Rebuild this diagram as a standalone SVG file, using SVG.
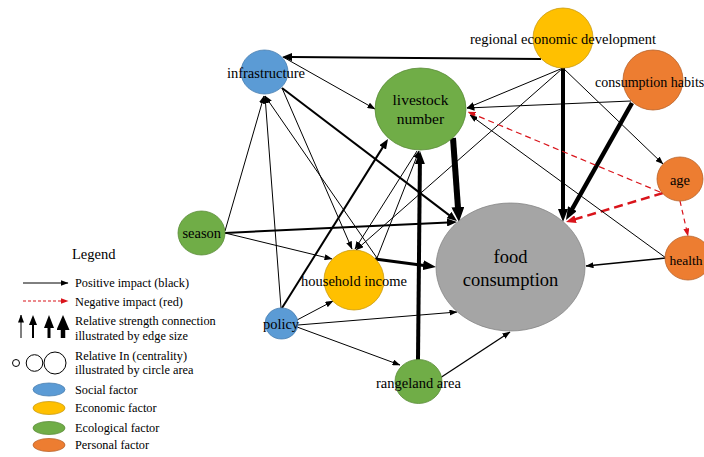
<svg xmlns="http://www.w3.org/2000/svg" width="704" height="457" viewBox="0 0 704 457">
  <defs>
    <style>
      text { font-family: "Liberation Serif", "Times New Roman", serif; fill: #000; }
      .lbl { font-size: 14.5px; text-anchor: middle; }
      .big { font-size: 15.5px; text-anchor: middle; }
      .huge { font-size: 18.5px; text-anchor: middle; }
      .leg { font-size: 12.3px; }
      .e { fill: none; stroke: #000; stroke-width: 1; }
      .neg { fill: none; stroke: #d9141b; stroke-width: 1.2; stroke-dasharray: 6 4; }
      .social { fill: #5b9bd5; stroke: #4a7fb0; stroke-width: 0.8; }
      .economic { fill: #ffc000; stroke: #c99a10; stroke-width: 0.8; }
      .ecological { fill: #70ad47; stroke: #5a8c38; stroke-width: 0.8; }
      .personal { fill: #ed7d31; stroke: #b8622a; stroke-width: 0.8; }
      .outcome { fill: #a5a5a5; stroke: #858585; stroke-width: 0.8; }
    </style>
    <!-- thin arrowhead: tip at the path end -->
    <marker id="as" markerUnits="userSpaceOnUse" markerWidth="8" markerHeight="6" refX="7.5" refY="3" orient="auto">
      <path d="M0,0 L8,3 L0,6 z" fill="#000"/>
    </marker>
    <marker id="as-red" markerUnits="userSpaceOnUse" markerWidth="8" markerHeight="6" refX="7.5" refY="3" orient="auto">
      <path d="M0,0 L8,3 L0,6 z" fill="#d9141b"/>
    </marker>
    <!-- heavier arrowheads: base sits at the path end -->
    <marker id="am" markerUnits="userSpaceOnUse" markerWidth="10" markerHeight="8" refX="1" refY="4" orient="auto">
      <path d="M0,0 L10,4 L0,8 z" fill="#000"/>
    </marker>
    <marker id="am-red" markerUnits="userSpaceOnUse" markerWidth="10" markerHeight="8" refX="1" refY="4" orient="auto">
      <path d="M0,0 L10,4 L0,8 z" fill="#d9141b"/>
    </marker>
    <marker id="al" markerUnits="userSpaceOnUse" markerWidth="13" markerHeight="10" refX="1" refY="5" orient="auto">
      <path d="M0,0 L13,5 L0,10 z" fill="#000"/>
    </marker>
    <marker id="axl" markerUnits="userSpaceOnUse" markerWidth="15" markerHeight="13" refX="1" refY="6.5" orient="auto">
      <path d="M0,0 L15,6.5 L0,13 z" fill="#000"/>
    </marker>
  </defs>

  <rect width="704" height="457" fill="#fff"/>

  <!-- connectors -->
  <g id="connectors">
    <path class="e" style="stroke-width:2" d="M541,59 L291,57.1" marker-end="url(#am)"/>
    <path class="e" d="M563,68 L467,108" marker-end="url(#as)"/>
    <path class="e" style="stroke-width:4" d="M563,68 L563,210" marker-end="url(#al)"/>
    <path class="e" d="M563,68 L663,164" marker-end="url(#as)"/>
    <path class="e" d="M563,68 L356,250" marker-end="url(#as)"/>
    <path class="e" d="M631,101 L467,108" marker-end="url(#as)"/>
    <path class="e" style="stroke-width:4.5" d="M632,103 L571.9,209.5" marker-end="url(#al)"/>
    <path class="neg" d="M660,192 L468,112" marker-end="url(#as-red)"/>
    <path class="neg" style="stroke-width:2.5;stroke-dasharray:9 5" d="M663,193 L574.6,219.4" marker-end="url(#am-red)"/>
    <path class="neg" style="stroke-dasharray:5 4" d="M680,201 L688,236" marker-end="url(#as-red)"/>
    <path class="e" d="M666,258 L470,115" marker-end="url(#as)"/>
    <path class="e" style="stroke-width:1.5" d="M666,258 L586,266" marker-end="url(#as)"/>
    <path class="e" style="stroke-width:6" d="M453,138 L458,208" marker-end="url(#axl)"/>
    <path class="e" style="stroke-width:4" d="M418,360 L419.9,163" marker-end="url(#al)"/>
    <path class="e" style="stroke-width:1.3" d="M440,378 L510,332" marker-end="url(#as)"/>
    <path class="e" d="M297,327 L400,365" marker-end="url(#as)"/>
    <path class="e" d="M298,325 L457,312" marker-end="url(#as)"/>
    <path class="e" d="M297,320 L333,301" marker-end="url(#as)"/>
    <path class="e" style="stroke-width:2" d="M282,308 L383.2,146.6" marker-end="url(#am)"/>
    <path class="e" d="M281,308 L265,96" marker-end="url(#as)"/>
    <path class="e" d="M225,231 L264,96" marker-end="url(#as)"/>
    <path class="e" style="stroke-width:2" d="M225,233 L448,222.4" marker-end="url(#am)"/>
    <path class="e" d="M225,233 L332,259" marker-end="url(#as)"/>
    <path class="e" d="M283,57 L375,109" marker-end="url(#as)"/>
    <path class="e" style="stroke-width:2" d="M282,88 L449.8,215.6" marker-end="url(#am)"/>
    <path class="e" d="M282,88 L352,249" marker-end="url(#as)"/>
    <path class="e" d="M377,258 L265,96" marker-end="url(#as)"/>
    <path class="e" d="M377,258 L419,151" marker-end="url(#as)"/>
    <path class="e" d="M417,151 L355,249" marker-end="url(#as)"/>
    <path class="e" style="stroke-width:3" d="M375,259 L424.1,265.4" marker-end="url(#al)"/>
  </g>

  <!-- nodes -->
  <g id="infrastructure">
    <ellipse class="social" cx="264.5" cy="72" rx="23.5" ry="22"/>
    <text class="lbl" x="266" y="78">infrastructure</text>
  </g>
  <g id="livestock-number">
    <ellipse class="ecological" cx="420.5" cy="109" rx="45.5" ry="41"/>
    <text class="big" x="420.5" y="105">livestock</text>
    <text class="big" x="420.5" y="124">number</text>
  </g>
  <g id="regional-economic-development">
    <circle class="economic" cx="563" cy="38" r="30"/>
    <text class="lbl" x="563" y="44">regional economic development</text>
  </g>
  <g id="consumption-habits">
    <circle class="personal" cx="653" cy="80" r="30"/>
    <text x="595" y="87" style="font-size:14px">consumption habits</text>
  </g>
  <g id="age">
    <ellipse class="personal" cx="680" cy="179" rx="23" ry="22"/>
    <text class="lbl" x="680" y="185">age</text>
  </g>
  <g id="health">
    <ellipse class="personal" cx="688" cy="258" rx="23" ry="22"/>
    <text x="669.5" y="265" style="font-size:13.5px">health</text>
  </g>
  <g id="food-consumption">
    <ellipse class="outcome" cx="510.5" cy="267" rx="74.5" ry="64"/>
    <text class="huge" x="510.5" y="263">food</text>
    <text class="huge" x="510.5" y="286">consumption</text>
  </g>
  <g id="season">
    <ellipse class="ecological" cx="201.5" cy="233" rx="23.5" ry="22"/>
    <text class="lbl" x="201.8" y="238">season</text>
  </g>
  <g id="household-income">
    <circle class="economic" cx="354" cy="280" r="30"/>
    <text class="lbl" x="354" y="286">household income</text>
  </g>
  <g id="policy">
    <ellipse class="social" cx="281.5" cy="323.5" rx="16.5" ry="15.5"/>
    <text class="lbl" x="281" y="329">policy</text>
  </g>
  <g id="rangeland-area">
    <ellipse class="ecological" cx="418.5" cy="381.5" rx="23.5" ry="22"/>
    <text class="lbl" x="418.5" y="388">rangeland area</text>
  </g>

  <!-- legend -->
  <g id="legend">
    <text x="72" y="259" style="font-size:14.5px">Legend</text>

    <path class="e" d="M23,283 L68,283" marker-end="url(#as)"/>
    <text class="leg" x="75" y="287">Positive impact (black)</text>

    <path class="neg" style="stroke-dasharray:3 2" d="M23,301 L68,301" marker-end="url(#as-red)"/>
    <text class="leg" x="75" y="306">Negative impact (red)</text>

    <path class="e" d="M21,338 L21,315" marker-end="url(#as)"/>
    <path class="e" style="stroke-width:2" d="M33,338 L33,324" marker-end="url(#am)"/>
    <path class="e" style="stroke-width:3" d="M49,338 L49,327" marker-end="url(#al)"/>
    <path class="e" style="stroke-width:4.5" d="M63,338 L63,329" marker-end="url(#axl)"/>
    <text class="leg" x="75" y="325">Relative strength connection</text>
    <text class="leg" x="75" y="340">illustrated by edge size</text>

    <circle cx="16" cy="363" r="3.5" fill="#fff" stroke="#000" stroke-width="1"/>
    <circle cx="34.5" cy="363" r="8.3" fill="#fff" stroke="#000" stroke-width="1"/>
    <circle cx="55" cy="363" r="11" fill="#fff" stroke="#000" stroke-width="1"/>
    <text class="leg" x="75" y="360">Relative In (centrality)</text>
    <text class="leg" x="75" y="374">illustrated by circle area</text>

    <ellipse class="social" cx="49" cy="389.5" rx="16" ry="6.5"/>
    <text class="leg" x="75" y="394">Social factor</text>
    <ellipse class="economic" cx="49" cy="408" rx="16" ry="6.5"/>
    <text class="leg" x="75" y="412">Economic factor</text>
    <ellipse class="ecological" cx="49" cy="428" rx="16" ry="6.5"/>
    <text class="leg" x="75" y="432">Ecological factor</text>
    <ellipse class="personal" cx="49" cy="445" rx="16" ry="6.5"/>
    <text class="leg" x="75" y="449">Personal factor</text>
  </g>
</svg>
